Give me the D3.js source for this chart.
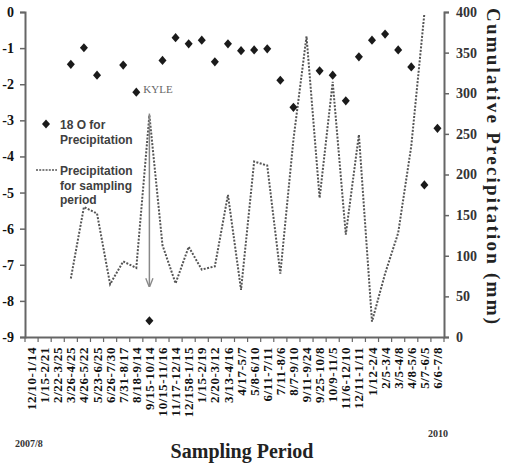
<!DOCTYPE html>
<html>
<head>
<meta charset="utf-8">
<script src="https://cdn.jsdelivr.net/npm/d3@7"></script>
<style>
  body { margin: 0; background: #fff; }
  svg { display: block; }
</style>
</head>
<body>
<div id="chart"></div>
<script>
// sampling periods (2007/8 .. 2010)
const periods = ["12/10-1/14", "1/15-2/21", "2/22-3/25", "3/26-4/25", "4/26-5/22", "5/23-6/25",
  "6/26-7/30", "7/31-8/17", "8/18-9/14", "9/15-10/14", "10/15-11/16", "11/17-12/14",
  "12/158-1/15", "1/15-2/19", "2/20-3/12", "3/13-4/16", "4/17-5/7", "5/8-6/10",
  "6/11-7/11", "7/11-8/6", "8/7-9/10", "9/11-9/24", "9/25-10/8", "10/9-11/5",
  "11/6-12/10", "12/11-1/11", "1/12-2/4", "2/5-3/4", "3/5-4/8", "4/8-5/6",
  "5/7-6/5", "6/6-7/8"];

// 18O for precipitation (left axis)
const d18O = [null, null, null, -1.45, -0.99, -1.75, null, -1.47, -2.22, -8.55, -1.34, -0.71,
  -0.88, -0.78, -1.38, -0.88, -1.07, -1.05, -1.02, -1.89, -2.64, null, -1.63, -1.75,
  -2.46, -1.24, -0.78, -0.61, -1.05, -1.52, -4.79, -3.22];

// precipitation for sampling period, mm (right axis)
const precip = [null, null, null, 72, 160, 152, 65, 93, 85, 273, 113, 66,
  111, 83, 87, 175, 58, 216, 211, 78, 243, 370, 171, 314,
  126, 249, 19, 78, 128, 235, 398, null];

const leftTicks = [0, -1, -2, -3, -4, -5, -6, -7, -8, -9];
const rightTicks = [0, 50, 100, 150, 200, 250, 300, 350, 400];

// KYLE annotation: arrow from the precipitation peak down towards the depleted sample
const kyleIndex = 9;
const kyleArrowTop = 275;   // mm
const kyleArrowBottom = -7.6; // per mil

const W = 507, H = 466;
const margin = { top: 12, right: 63, bottom: 129, left: 25 };

const svg = d3.select("#chart").append("svg")
  .attr("width", W)
  .attr("height", H);

const x = d3.scaleBand()
  .domain(periods)
  .range([margin.left, W - margin.right])
  .padding(0);

const yL = d3.scaleLinear().domain([-9, 0]).range([H - margin.bottom, margin.top]);
const yR = d3.scaleLinear().domain([0, 400]).range([H - margin.bottom, margin.top]);

const cx = i => x(periods[i]) + x.bandwidth() / 2;
const serif = "'Times New Roman', 'Liberation Serif', serif";
const sans = "Arial, 'Liberation Sans', sans-serif";

// diamond marker
const diamond = {
  draw(ctx, size) {
    const w = Math.sqrt(size) / 2, h = w * 1.15;
    ctx.moveTo(0, -h); ctx.lineTo(w, 0); ctx.lineTo(0, h); ctx.lineTo(-w, 0); ctx.closePath();
  }
};
const marker = d3.symbol().type(diamond).size(64);

// axes
const axisColor = "#666";

const gL = svg.append("g")
  .attr("transform", `translate(${margin.left},0)`)
  .call(d3.axisLeft(yL).tickValues(leftTicks).tickSize(5).tickPadding(6).tickFormat(d3.format("d")));
gL.select(".domain").attr("stroke", axisColor).attr("stroke-width", 2);
gL.selectAll(".tick line").attr("stroke", axisColor).attr("stroke-width", 1.5);
gL.selectAll(".tick text")
  .attr("font-family", serif).attr("font-weight", "bold").attr("font-size", 14).attr("fill", "#111")
  .text(d => d === 0 ? "0" : "-" + Math.abs(d));

const gR = svg.append("g")
  .attr("transform", `translate(${W - margin.right},0)`)
  .call(d3.axisRight(yR).tickValues(rightTicks).tickSize(5).tickPadding(7));
gR.select(".domain").attr("stroke", axisColor).attr("stroke-width", 2);
gR.selectAll(".tick line").attr("stroke", axisColor).attr("stroke-width", 1.5);
gR.selectAll(".tick text")
  .attr("font-family", serif).attr("font-weight", "bold").attr("font-size", 14).attr("fill", "#333");

const gX = svg.append("g")
  .attr("transform", `translate(0,${H - margin.bottom})`)
  .call(d3.axisBottom(x).tickSize(0).tickFormat(""));
gX.select(".domain").attr("stroke", axisColor).attr("stroke-width", 2);
// tick marks between categories
gX.selectAll(".sep")
  .data(periods.concat(["_end"]))
  .enter().append("line")
  .attr("class", "sep")
  .attr("x1", (d, i) => margin.left + i * x.bandwidth())
  .attr("x2", (d, i) => margin.left + i * x.bandwidth())
  .attr("y1", 0).attr("y2", 5)
  .attr("stroke", axisColor).attr("stroke-width", 1.2);

// rotated category labels
svg.append("g").selectAll("text")
  .data(periods)
  .enter().append("text")
  .attr("transform", (d, i) => `translate(${cx(i)},${H - margin.bottom + 10}) rotate(-90)`)
  .attr("dy", "0.35em")
  .attr("text-anchor", "end")
  .attr("font-family", serif)
  .attr("font-weight", "bold")
  .attr("font-size", 13)
  .attr("letter-spacing", 0.6)
  .attr("fill", "#111")
  .text(d => d);

// precipitation dotted line
const line = d3.line()
  .defined(d => d != null)
  .x((d, i) => cx(i))
  .y(d => yR(d));

svg.append("path")
  .datum(precip)
  .attr("fill", "none")
  .attr("stroke", "#555")
  .attr("stroke-width", 2)
  .attr("stroke-dasharray", "2,1.5")
  .attr("d", line);

// KYLE arrow
svg.append("defs").append("marker")
  .attr("id", "arrow")
  .attr("viewBox", "0 0 10 10")
  .attr("refX", 9).attr("refY", 5)
  .attr("markerWidth", 6).attr("markerHeight", 6)
  .attr("orient", "auto")
  .append("path")
  .attr("d", "M0,1 L10,5 L0,9")
  .attr("fill", "none")
  .attr("stroke", "#888")
  .attr("stroke-width", 1.5);

svg.append("line")
  .attr("x1", cx(kyleIndex)).attr("x2", cx(kyleIndex))
  .attr("y1", yR(kyleArrowTop)).attr("y2", yL(kyleArrowBottom))
  .attr("stroke", "#888")
  .attr("stroke-width", 1.5)
  .attr("marker-end", "url(#arrow)");

svg.append("text")
  .attr("x", cx(kyleIndex - 1) + 7)
  .attr("y", yL(d18O[kyleIndex - 1]) + 1)
  .attr("font-family", serif)
  .attr("font-size", 11)
  .attr("fill", "#666")
  .text("KYLE");

// 18O points
svg.append("g").selectAll("path")
  .data(d18O.map((v, i) => ({ v, i })).filter(d => d.v != null))
  .enter().append("path")
  .attr("transform", d => `translate(${cx(d.i)},${yL(d.v)})`)
  .attr("d", marker)
  .attr("fill", "#1a1a1a");

// legend
const leg = svg.append("g").attr("font-family", sans).attr("font-weight", "bold")
  .attr("font-size", 12).attr("fill", "#404040");
leg.append("path").attr("transform", "translate(46,124)").attr("d", marker).attr("fill", "#1a1a1a");
leg.append("text").attr("x", 60).attr("y", 128.5).text("18 O for");
leg.append("text").attr("x", 60).attr("y", 143.5).text("Precipitation");
leg.append("line").attr("x1", 36).attr("x2", 57).attr("y1", 170).attr("y2", 170)
  .attr("stroke", "#555").attr("stroke-width", 1.5).attr("stroke-dasharray", "2,1.2");
leg.append("text").attr("x", 60).attr("y", 174.5).text("Precipitation");
leg.append("text").attr("x", 60).attr("y", 189.5).text("for sampling");
leg.append("text").attr("x", 60).attr("y", 204).text("period");

// titles
svg.append("text")
  .attr("transform", `translate(487,166) rotate(90)`)
  .attr("text-anchor", "middle")
  .attr("font-family", serif)
  .attr("font-weight", "bold")
  .attr("font-size", 19)
  .attr("fill", "#222")
  .attr("textLength", 316)
  .attr("lengthAdjust", "spacing")
  .text("Cumulative Precipitation (mm)");

svg.append("text")
  .attr("x", 242).attr("y", 458)
  .attr("text-anchor", "middle")
  .attr("font-family", serif)
  .attr("font-weight", "bold")
  .attr("font-size", 20)
  .attr("fill", "#222")
  .text("Sampling Period");

svg.append("text")
  .attr("x", 15).attr("y", 447)
  .attr("font-family", serif).attr("font-weight", "bold").attr("font-size", 10).attr("fill", "#333")
  .text("2007/8");

svg.append("text")
  .attr("x", 428).attr("y", 437)
  .attr("font-family", serif).attr("font-weight", "bold").attr("font-size", 10).attr("fill", "#333")
  .text("2010");
</script>
</body>
</html>
